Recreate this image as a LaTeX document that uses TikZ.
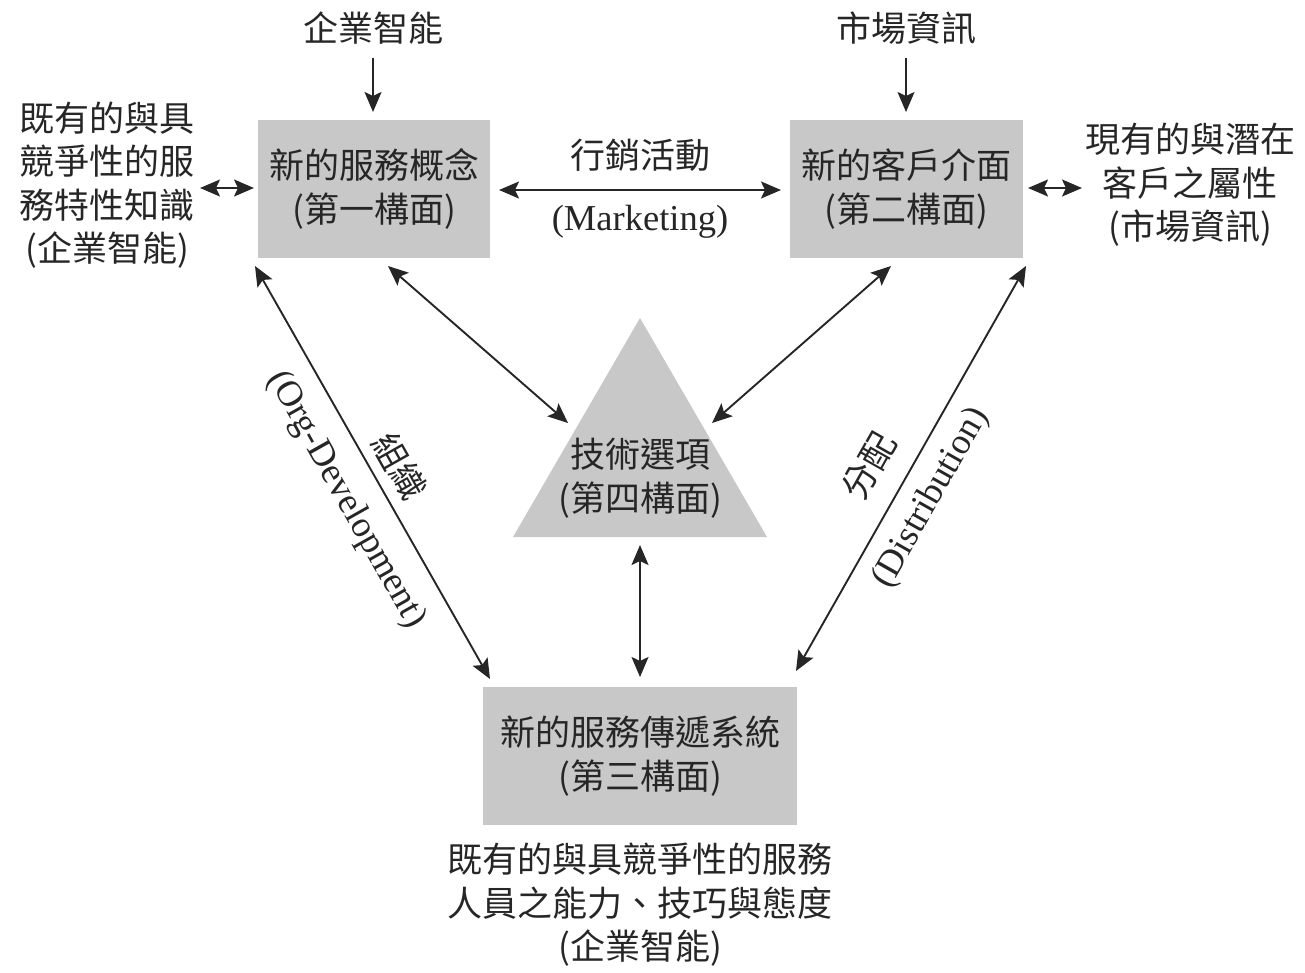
\documentclass[tikz,border=0pt]{standalone}
\usepackage{fontspec}
\setmainfont{Liberation Serif}
\newfontfamily\cjk{Noto Sans CJK TC}
\usetikzlibrary{arrows.meta}
\definecolor{boxgray}{HTML}{C8C8C8}
\definecolor{ink}{HTML}{262626}
\tikzset{
  zh/.style={font=\cjk\fontsize{35}{43.5}\selectfont, text=ink, align=center, inner sep=0pt},
  en/.style={font=\fontsize{36.5}{44}\selectfont, text=ink, inner sep=0pt},
  panel/.style={zh, fill=boxgray, minimum height=138pt},
  headtip/.tip={Stealth[length=20pt, width=17pt, inset=4pt]},
  link/.style={draw=ink, line width=1.9pt, headtip-headtip},
  feed/.style={draw=ink, line width=1.9pt, -headtip}
}
\begin{document}
\begin{tikzpicture}[x=1pt, y=-1pt]
\useasboundingbox (0,0) rectangle (1305,972);

% the three dimension boxes
\node[panel, minimum width=232pt] (b1) at (374,189) {新的服務概念\\(第一構面)};
\node[panel, minimum width=233pt] (b2) at (906.5,189) {新的客戶介面\\(第二構面)};
\node[panel, minimum width=314pt] (b3) at (640,756) {新的服務傳遞系統\\(第三構面)};

% technology triangle
\coordinate (apex) at (640,318);
\coordinate (baseL) at (513,537);
\coordinate (baseR) at (767,537);
\fill[boxgray] (apex) -- (baseL) -- (baseR) -- cycle;
\node[zh] (b4) at (640,478) {技術選項\\(第四構面)};

% outside sources
\node[zh] (bi1) at (373,28) {企業智能};
\node[zh] (mi) at (906,28) {市場資訊};
\node[zh] (know) at (107,185) {既有的與具\\競爭性的服\\務特性知識\\(企業智能)};
\node[zh] (cust) at (1190,185) {現有的與潛在\\客戶之屬性\\(市場資訊)};
\node[zh] (staff) at (640,905) {既有的與具競爭性的服務\\人員之能力、技巧與態度\\(企業智能)};

% connector end points
\coordinate (bi1s) at (373,58);
\coordinate (b1n) at (373,112);
\coordinate (mis) at (906,58);
\coordinate (b2n) at (906,112);
\coordinate (knowE) at (200,188);
\coordinate (b1W) at (254,188);
\coordinate (b1E) at (499,190);
\coordinate (b2W) at (781,190);
\coordinate (b2E) at (1028,188);
\coordinate (custW) at (1082,188);
\coordinate (b1sw) at (255,266);
\coordinate (b3nw) at (490,679);
\coordinate (b1s) at (388,266);
\coordinate (t4l) at (568,423);
\coordinate (b2s) at (891,266);
\coordinate (t4r) at (712,423);
\coordinate (b2se) at (1026,266);
\coordinate (b3ne) at (796,671);
\coordinate (t4b) at (640,545);
\coordinate (b3n) at (640,677);

% inputs from outside
\draw[feed] (bi1s) -- (b1n);
\draw[feed] (mis) -- (b2n);
\draw[link] (knowE) -- (b1W);
\draw[link] (b2E) -- (custW);

% links between dimensions
\draw[link] (b1E) -- node[zh, pos=0.5, yshift=35pt] (mkzh) {行銷活動}
                    node[en, pos=0.5, yshift=-32pt] (mken) {(Marketing)} (b2W);
\draw[link] (b1sw) -- (b3nw);
\draw[link] (b1s) -- (t4l);
\draw[link] (b2s) -- (t4r);
\draw[link] (b2se) -- (b3ne);
\draw[link] (t4b) -- (b3n);

% labels along the diagonal links
\node[en, rotate=-60.6] (orgen) at (346,500) {(Org-Development)};
\node[zh, rotate=-60.6] (orgzh) at (400,466) {組織};
\node[zh, rotate=60.4] (diszh) at (869,466) {分配};
\node[en, rotate=60.4] (disen) at (931,498) {(Distribution)};
\end{tikzpicture}
\end{document}
